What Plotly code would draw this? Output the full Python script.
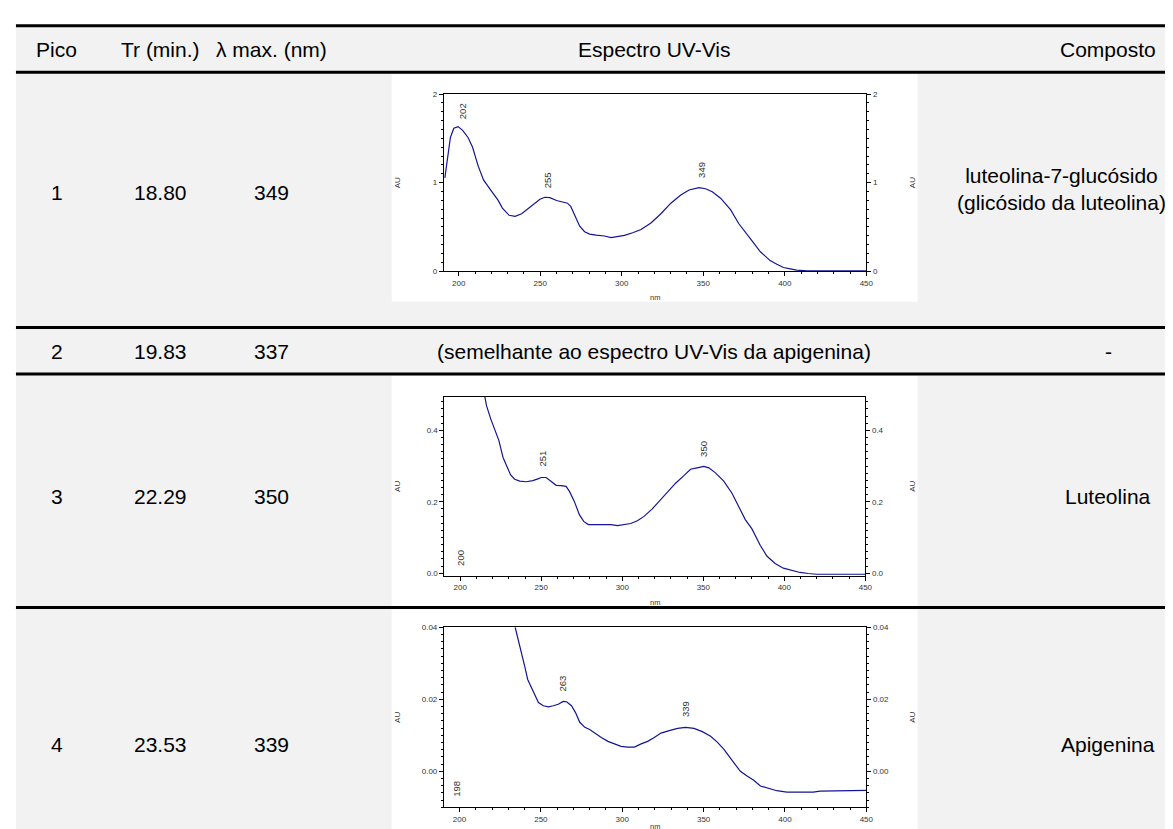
import plotly.graph_objects as go

W, H = 1173, 829

# ---------------- table data ----------------
headers = ["Pico", "Tr (min.)", "λ max. (nm)", "Espectro UV-Vis", "Composto"]
picos = ["1", "2", "3", "4"]
tr_min = ["18.80", "19.83", "22.29", "23.53"]
lambda_max = ["349", "337", "350", "339"]
compostos = ["luteolina-7-glucósido<br>(glicósido da luteolina)", "-", "Luteolina", "Apigenina"]
row2_note = "(semelhante ao espectro UV-Vis da apigenina)"

# ---------------- spectrum data ----------------
nm1 = [191.5, 192.9, 194.9, 197, 199.6, 202.4, 205.7, 208.5, 211.8, 215.2, 217.3, 220.3, 224, 226.8,
       230.9, 234.6, 238.6, 241.7, 245.7, 249.8, 252.8, 255.9, 260, 263, 266.7, 268.7, 271.1, 274.2,
       277.2, 280.3, 284.3, 289.4, 293.5, 297.6, 301.6, 306.7, 311.8, 317.9, 324, 330.1, 336.2, 341.3,
       347.4, 351.4, 355.5, 360.6, 366.7, 371.7, 375.8, 379.9, 385, 391, 395.1, 399.2, 403.3, 407.3,
       413.4, 419.5, 450]
au1 = [1.054, 1.25, 1.51, 1.614, 1.633, 1.59, 1.51, 1.40, 1.195, 1.03, 0.972, 0.898, 0.805, 0.712,
       0.631, 0.62, 0.649, 0.694, 0.75, 0.813, 0.835, 0.831, 0.798, 0.787, 0.768, 0.731, 0.638, 0.508,
       0.445, 0.419, 0.408, 0.397, 0.378, 0.39, 0.404, 0.434, 0.471, 0.545, 0.649, 0.768, 0.861, 0.917,
       0.943, 0.931, 0.898, 0.824, 0.694, 0.538, 0.434, 0.341, 0.219, 0.119, 0.078, 0.041, 0.026, 0.011,
       0.004, 0.004, 0.004]
peaks1_nm = [202, 255, 349]
peaks1_y = [1.807, 1.03, 1.14]

nm3 = [215.2, 216.2, 218.8, 221.3, 223.8, 226.4, 229.1, 231.1, 233.6, 236.7, 240.7, 244.8, 247.9, 250,
       253, 256.1, 259.2, 262.2, 265.3, 267.4, 270.4, 273.5, 276.2, 279, 284.8, 293, 297.1, 301.1, 305.2,
       309.3, 313.4, 318.5, 323.7, 328.8, 332.9, 338, 342.1, 346.2, 350.3, 353.4, 357.5, 362.6, 367.7,
       371.8, 375.9, 380, 385.1, 389.2, 394.3, 399.4, 404.5, 409.7, 414.8, 419.9, 450]
au3 = [0.494, 0.469, 0.432, 0.4, 0.372, 0.324, 0.294, 0.275, 0.263, 0.258, 0.256, 0.259, 0.264, 0.268,
       0.268, 0.256, 0.246, 0.245, 0.243, 0.229, 0.201, 0.164, 0.145, 0.136, 0.136, 0.136, 0.133, 0.136,
       0.139, 0.147, 0.159, 0.18, 0.207, 0.233, 0.252, 0.273, 0.291, 0.295, 0.299, 0.295, 0.281, 0.258,
       0.224, 0.187, 0.15, 0.124, 0.078, 0.048, 0.027, 0.014, 0.008, 0.002, -0.001, -0.003, -0.003]
peaks3_nm = [200, 251, 350]
peaks3_y = [0.0435, 0.321, 0.349]

nm4 = [234.2, 236.2, 238.3, 240.3, 241.9, 244.4, 246.4, 248.5, 251.5, 254.6, 257.6, 260.7, 263.7, 265.8,
       268.8, 271.3, 273.9, 277, 280, 283.1, 287.1, 291.2, 295.3, 299.3, 303.4, 307.5, 311.6, 315.6,
       319.7, 323.8, 328.9, 334, 339, 344.1, 349.2, 354.3, 358.4, 362.5, 367.5, 372.6, 376.7, 380.8,
       384.9, 390, 395, 401.1, 407.2, 413.4, 417.4, 421.5, 429.6, 441.9, 443.9, 450]
au4 = [0.04, 0.0365, 0.0328, 0.0287, 0.0255, 0.0232, 0.0209, 0.0191, 0.0182, 0.0179, 0.0182, 0.0186,
       0.0194, 0.0193, 0.0182, 0.0163, 0.0136, 0.0122, 0.0116, 0.0106, 0.0094, 0.0083, 0.0076, 0.0069,
       0.0067, 0.0067, 0.0076, 0.0083, 0.0094, 0.0106, 0.0113, 0.0119, 0.0122, 0.0119, 0.011, 0.0097,
       0.0081, 0.0061, 0.003, 0.0, -0.0013, -0.0025, -0.0041, -0.0048, -0.0054, -0.0058, -0.0058,
       -0.0056, -0.0058, -0.0055, -0.0055, -0.0055, -0.0053, -0.0053]
peaks4_nm = [198, 263, 339]
peaks4_y = [-0.0048, 0.0244, 0.0172]

# ---------------- layout helpers ----------------
def px(x):
    return x / W

def py(y):
    return 1 - y / H

FONT = "Liberation Sans, Arial, sans-serif"
TXT = 21
LINE_COLOR = "rgb(20,20,150)"

# plot boxes in pixels (left, top, right, bottom)
boxes = [
    (438.5, 83, 863.5, 262),
    (439, 389, 862.5, 570),
    (438.5, 622, 863.5, 804),
]
yranges = [[0, 2], [-0.0074, 0.494], [-0.01, 0.04]]
ydticks = [1, 0.2, 0.02]
yminor = [0.1, 0.02, 0.002]
yfmt = ["d", ".1f", ".2f"]
xranges = [[190.9, 450], [190.2, 450], [190.4, 450]]

series = [(nm1, au1, peaks1_nm, peaks1_y), (nm3, au3, peaks3_nm, peaks3_y), (nm4, au4, peaks4_nm, peaks4_y)]

fig = go.Figure()
layout = {}
annotations = []
tickfont = dict(family=FONT, size=8, color="#333")

for i, (box, (xs, ys, pk_x, pk_y)) in enumerate(zip(boxes, series)):
    l, t, r, b = box
    xa = "x" if i == 0 else f"x{i+1}"
    ya = "y" if i == 0 else f"y{i+1}"
    yr = f"y{i+4}"
    xkey = "xaxis" if i == 0 else f"xaxis{i+1}"
    ykey = "yaxis" if i == 0 else f"yaxis{i+1}"
    yrkey = f"yaxis{i+4}"
    fig.add_trace(go.Scatter(x=xs, y=ys, mode="lines", xaxis=xa, yaxis=ya,
                             line=dict(color=LINE_COLOR, width=1.2), showlegend=False,
                             hoverinfo="skip"))
    fig.add_trace(go.Scatter(x=xs, y=ys, mode="lines", xaxis=xa, yaxis=yr,
                             line=dict(color="rgba(0,0,0,0)", width=0.1), showlegend=False,
                             hoverinfo="skip"))
    layout[xkey] = dict(domain=[px(l), px(r)], range=xranges[i], anchor=ya,
                        showline=True, linecolor="black", linewidth=1, mirror=True,
                        ticks="outside", ticklen=4, tickcolor="black", tickwidth=1,
                        tick0=200, dtick=50, showgrid=False, zeroline=False,
                        tickfont=tickfont,
                        minor=dict(dtick=10, tick0=200, ticks="outside", ticklen=2,
                                   tickcolor="black", showgrid=False))
    common_y = dict(domain=[py(b), py(t)], range=yranges[i], showgrid=False, zeroline=False,
                    showline=True, linecolor="black", linewidth=1,
                    ticks="outside", ticklen=4, tickcolor="black", tickwidth=1,
                    tick0=0, dtick=ydticks[i], tickformat=yfmt[i], tickfont=tickfont,
                    minor=dict(dtick=yminor[i], tick0=0, ticks="outside", ticklen=2,
                               tickcolor="black", showgrid=False))
    layout[ykey] = dict(anchor=xa, side="left", **common_y)
    layout[yrkey] = dict(anchor=xa, side="right", overlaying=ya, **common_y)

    for x0, y0 in zip(pk_x, pk_y):
        annotations.append(dict(x=x0, y=y0, xref=xa, yref=ya, text=str(x0), showarrow=False,
                                textangle=-90, xanchor="center", yanchor="middle",
                                font=dict(family=FONT, size=9.5, color="#333")))
    cy = (t + b) / 2
    annotations.append(dict(x=px(392), y=py(cy), xref="paper", yref="paper", text="AU",
                            showarrow=False, textangle=-90, xanchor="center", yanchor="middle",
                            font=dict(family=FONT, size=8, color="#333")))
    annotations.append(dict(x=px(910), y=py(cy), xref="paper", yref="paper", text="AU",
                            showarrow=False, textangle=-90, xanchor="center", yanchor="middle",
                            font=dict(family=FONT, size=8, color="#333")))
    nm_y = min(b + 27, 823)
    annotations.append(dict(x=px((l + r) / 2), y=py(nm_y), xref="paper", yref="paper", text="nm",
                            showarrow=False, xanchor="center", yanchor="middle",
                            font=dict(family=FONT, size=7.5, color="#333")))

# ---------------- table text ----------------
col_x = [49, 153, 265, 650, 1107]
header_y = 38
row_y = [182, 343, 490, 741]
tfont = dict(family=FONT, size=TXT, color="black")

for cx, h in zip(col_x, headers):
    annotations.append(dict(x=px(cx), y=py(header_y), xref="paper", yref="paper", text=h,
                            showarrow=False, xanchor="center", yanchor="middle", font=tfont))

for k in range(4):
    for cx, val in zip(col_x[:3], [picos[k], tr_min[k], lambda_max[k]]):
        annotations.append(dict(x=px(cx), y=py(row_y[k]), xref="paper", yref="paper", text=val,
                                showarrow=False, xanchor="center", yanchor="middle", font=tfont))
    comp_x = 1060 if k == 0 else 1107
    annotations.append(dict(x=px(comp_x), y=py(row_y[k] - 3 if k == 0 else row_y[k]),
                            xref="paper", yref="paper", text=compostos[k],
                            showarrow=False, xanchor="center", yanchor="middle", font=tfont,
                            align="center"))

annotations.append(dict(x=px(650), y=py(row_y[1]), xref="paper", yref="paper", text=row2_note,
                        showarrow=False, xanchor="center", yanchor="middle", font=tfont))

# ---------------- shapes: table background & rules ----------------
shapes = []
shapes.append(dict(type="rect", xref="paper", yref="paper", x0=px(8), x1=px(1173), y0=py(829), y1=py(14),
                   fillcolor="#f2f2f2", line=dict(width=0), layer="below"))
for (y0, y1) in [(63, 293), (368, 601), (604, 829)]:
    shapes.append(dict(type="rect", xref="paper", yref="paper", x0=px(386), x1=px(915),
                       y0=py(y1), y1=py(y0), fillcolor="white", line=dict(width=0), layer="below"))
for yl in [14, 61, 319, 366, 602]:
    shapes.append(dict(type="line", xref="paper", yref="paper", x0=px(8), x1=px(1173),
                       y0=py(yl), y1=py(yl), line=dict(color="black", width=3)))

fig.update_layout(
    width=W, height=H,
    margin=dict(l=0, r=0, t=0, b=0),
    paper_bgcolor="white",
    plot_bgcolor="white",
    showlegend=False,
    annotations=annotations,
    shapes=shapes,
    **layout,
)

fig.write_html("out.html")
